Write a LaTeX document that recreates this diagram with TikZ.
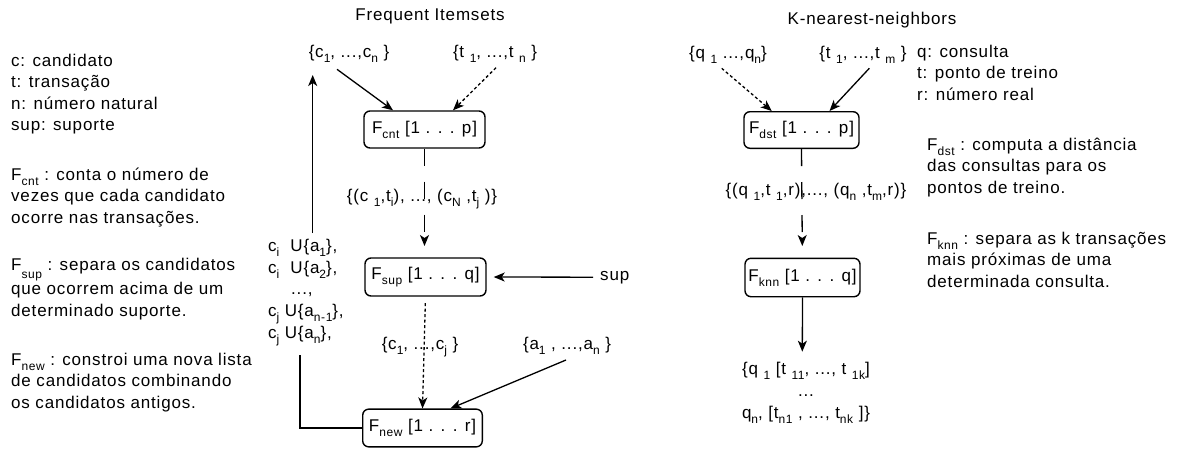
\documentclass[tikz,border=0pt]{standalone}
\usepackage{fontspec}
\setmainfont{Liberation Sans}[LetterSpace=4.8]
\usetikzlibrary{arrows.meta}
\newcommand{\sbx}[2][5pt]{\raisebox{-#1}{\fontsize{12}{12}\selectfont #2}}
\begin{document}
\begin{tikzpicture}[x=1pt,y=-1pt,
  every node/.style={inner sep=0pt, font=\fontsize{17}{21.6}\selectfont},
  procbox/.style={draw, rounded corners=6pt, line width=1.4pt},
  conn/.style={line width=1.3pt},
  arr/.style={conn, -{Stealth[length=11pt,width=9pt,inset=3pt]}},
  dotl/.style={dash pattern=on 3pt off 2.5pt},
  longd/.style={dash pattern=on 17pt off 16pt}]
\fill[white] (0,0) rectangle (1192,448);
\useasboundingbox (0,0) rectangle (1192,448);

% titles
\node[anchor=base] (title1) at (430,20.7) {Frequent Itemsets};
\node[anchor=base] (title2) at (872,24) {K-nearest-neighbors};

% left descriptions (anchor at baseline of last line)
\node[anchor=base west, align=left] (leg1) at (11,130.8) {c: candidato\\t: transação\\n: número natural\\sup: suporte};
\node[anchor=base west, align=left] (leg2) at (11,223.2) {F\sbx{cnt} : conta o número de\\vezes que cada candidato\\ocorre nas transações.};
\node[anchor=base west, align=left] (leg3) at (11,316.2) {F\sbx[8pt]{sup} : separa os candidatos\\que ocorrem acima de um\\determinado suporte.};
\node[anchor=base west, align=left] (leg4) at (11,408.2) {F\sbx{new} : constroi uma nova lista\\de candidatos combinando\\os candidatos antigos.};

% right descriptions
\node[anchor=base west, align=left] (leg5) at (917,100.2) {q: consulta\\t: ponto de treino\\r: número real};
\node[anchor=base west, align=left] (leg6) at (927,193.2) {F\sbx{dst} : computa a distância\\das consultas para os\\pontos de treino.};
\node[anchor=base west, align=left] (leg7) at (927,287.2) {F\sbx{knn} : separa as k transações\\mais próximas de uma\\determinada consulta.};

% frequent itemsets
\node[anchor=base] (cset) at (349,57) {\{c\sbx{1}, ...,c\sbx{n} \}};
\node[anchor=base] (tset) at (495,57) {\{t \sbx{1}, ...,t \sbx{n} \}};
\node[procbox, minimum width=121pt, minimum height=37pt] (Fcnt) at (424.5,129.5) {F\sbx{cnt} [1 . . . p]};
\node[anchor=base] (pairs) at (422,201.7) {\{(c \sbx{1},t\sbx{i}), ..., (c\sbx{N} ,t\sbx{j} )\}};
\node[procbox, minimum width=121pt, minimum height=38pt] (Fsup) at (425.5,277) {F\sbx{sup} [1 . . . q]};
\node[anchor=base west] (sup) at (600,280) {sup};
\node[anchor=base west, align=left] (cand) at (268,338) {c\sbx{i} \ U\{a\sbx{1}\},\\c\sbx{i} \ U\{a\sbx{2}\},\\\hspace{23pt}...,\\c\sbx{j} U\{a\sbx{n-1}\},\\c\sbx{j} U\{a\sbx{n}\},};
\node[anchor=base] (cjset) at (420,349) {\{c\sbx{1}, ...,c\sbx{j} \}};
\node[anchor=base] (aset) at (567,349) {\{a\sbx{1} , ...,a\sbx{n} \}};
\node[procbox, minimum width=119.6pt, minimum height=37.7pt] (Fnew) at (422.5,428) {F\sbx{new} [1 . . . r]};

% knn
\node[anchor=base] (qset) at (728,58) {\{q \sbx{1} ...,q\sbx{n}\}};
\node[anchor=base] (tmset) at (863,58) {\{t \sbx{1}, ...,t \sbx{m} \}};
\node[procbox, minimum width=115pt, minimum height=36.6pt] (Fdst) at (801.5,130) {F\sbx{dst} [1 . . . p]};
\node[anchor=base] (qpairs) at (816,195) {\{(q \sbx{1},t \sbx{1},r),..., (q\sbx{n} ,t\sbx{m},r)\}};
\node[procbox, minimum width=115pt, minimum height=38.4pt] (Fknn) at (802.5,277.5) {F\sbx{knn} [1 . . . q]};
\node[anchor=base, align=center] (out) at (806,418) {\{q \sbx{1} [t \sbx{11}, ..., t \sbx{1k}]\\...\\q\sbx{n}, [t\sbx{n1} , ..., t\sbx{nk} ]\}};

% coordinates
\coordinate (a1) at (337,69.3);
\coordinate (a2) at (496,67.7);
\coordinate (t1) at (424.5,246);
\coordinate (a3) at (566,360);
\coordinate (fb1) at (300,355);
\coordinate (fb2) at (312.7,233);
\coordinate (fbt) at (312.7,75);
\coordinate (b1) at (721.7,68.3);
\coordinate (b2) at (869.3,68.3);
\coordinate (t2) at (802.3,246);
\coordinate (t3) at (802.3,351.7);

% connectors
\draw[arr] (a1) -- ([xshift=-31.5pt]Fcnt.north);
\draw[arr, dotl] (a2) -- ([xshift=28.5pt]Fcnt.north);
\draw[arr, longd] (Fcnt.south) -- (t1);
\draw[arr, shorten <=7pt, shorten >=7pt] (sup.west) -- (Fsup.east);
\draw[arr, dotl, shorten <=6.5pt] (Fsup.south) -- (Fnew.north);
\draw[arr] (a3) -- ([xshift=28pt]Fnew.north);
\draw[conn] (Fnew.west) -| (fb1);
\draw[arr] (fb2) -- (fbt);
\draw[arr, dotl] (b1) -- ([xshift=-29.8pt]Fdst.north);
\draw[arr] (b2) -- ([xshift=28pt]Fdst.north);
\draw[arr, longd] (Fdst.south) -- (t2);
\draw[arr] (Fknn.south) -- (t3);
\end{tikzpicture}
\end{document}
